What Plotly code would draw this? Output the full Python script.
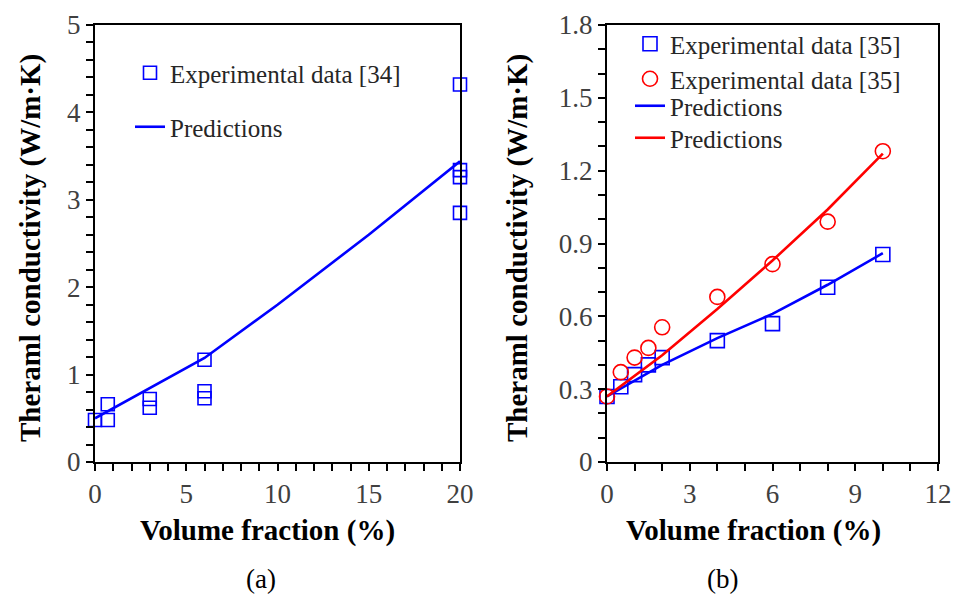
import plotly.graph_objects as go

# ---- Panel (a) data ----
a_exp_x = [0, 0.7, 0.7, 3, 3, 6, 6, 6, 20, 20, 20, 20]
a_exp_y = [0.48, 0.48, 0.66, 0.72, 0.62, 1.17, 0.81, 0.73, 4.32, 3.34, 3.26, 2.85]
a_pred_x = [0, 0.7, 3, 6, 10, 15, 20]
a_pred_y = [0.50, 0.58, 0.84, 1.19, 1.80, 2.60, 3.44]

# ---- Panel (b) data ----
b_sq_x = [0, 0.5, 1, 1.5, 2, 4, 6, 8, 10]
b_sq_y = [0.27, 0.31, 0.36, 0.40, 0.43, 0.50, 0.57, 0.72, 0.855]
b_ci_x = [0, 0.5, 1, 1.5, 2, 4, 6, 8, 10]
b_ci_y = [0.27, 0.37, 0.43, 0.47, 0.555, 0.68, 0.815, 0.99, 1.28]
b_pb_x = [0, 2, 4, 6, 8, 10]
b_pb_y = [0.27, 0.40, 0.51, 0.61, 0.73, 0.86]
b_pr_x = [0, 2, 4, 6, 8, 10]
b_pr_y = [0.27, 0.44, 0.63, 0.83, 1.04, 1.27]

a_yticks = [0, 1, 2, 3, 4, 5]
a_xticks = [0, 5, 10, 15, 20]
b_yticks = [0, 0.3, 0.6, 0.9, 1.2, 1.5, 1.8]
b_yticktext = ["0", "0.3", "0.6", "0.9", "1.2", "1.5", "1.8"]
b_xticks = [0, 3, 6, 9, 12]

BLUE = "#0000FF"
RED = "#FF0000"
SERIF = "Liberation Serif, Times New Roman, serif"
W, H = 955, 594


def px_x(p):
    return p / W


def px_y(p):
    return 1 - p / H


fig = go.Figure()

fig.add_trace(go.Scatter(x=a_exp_x, y=a_exp_y, mode="markers", name="Experimental data [34]",
                         marker=dict(symbol="square-open", size=13, color=BLUE, line=dict(width=1.6)),
                         xaxis="x", yaxis="y", legend="legend", cliponaxis=False))
fig.add_trace(go.Scatter(x=a_pred_x, y=a_pred_y, mode="lines", name="Predictions",
                         line=dict(color=BLUE, width=2.6),
                         xaxis="x", yaxis="y", legend="legend2", cliponaxis=False))

fig.add_trace(go.Scatter(x=b_sq_x, y=b_sq_y, mode="markers", name="Experimental data [35]",
                         marker=dict(symbol="square-open", size=14, color=BLUE, line=dict(width=1.6)),
                         xaxis="x2", yaxis="y2", legend="legend3", cliponaxis=False))
fig.add_trace(go.Scatter(x=b_ci_x, y=b_ci_y, mode="markers", name="Experimental data [35]",
                         marker=dict(symbol="circle-open", size=15, color=RED, line=dict(width=1.6)),
                         xaxis="x2", yaxis="y2", legend="legend4", cliponaxis=False))
fig.add_trace(go.Scatter(x=b_pb_x, y=b_pb_y, mode="lines", name="Predictions",
                         line=dict(color=BLUE, width=2.6),
                         xaxis="x2", yaxis="y2", legend="legend5", cliponaxis=False))
fig.add_trace(go.Scatter(x=b_pr_x, y=b_pr_y, mode="lines", name="Predictions",
                         line=dict(color=RED, width=2.6),
                         xaxis="x2", yaxis="y2", legend="legend6", cliponaxis=False))

tickfont = dict(family=SERIF, size=27, color="#404040")
minor_style = dict(ticks="outside", ticklen=7, tickwidth=1.5, tickcolor="black")
common = dict(showline=True, linecolor="black", linewidth=2, mirror=True,
              ticks="outside", ticklen=7, tickwidth=1.5, tickcolor="black",
              showgrid=False, zeroline=False, tickfont=tickfont, automargin=False)

leg_font = dict(family=SERIF, size=25, color="#262626")


def leg(xp, yp):
    return dict(x=px_x(xp), y=px_y(yp), xanchor="left", yanchor="top",
                font=leg_font, bgcolor="rgba(0,0,0,0)", borderwidth=0)


fig.update_layout(
    template="none",
    width=W, height=H, margin=dict(l=0, r=0, t=0, b=0, pad=0),
    paper_bgcolor="white", plot_bgcolor="white",
    font=dict(family=SERIF, color="black"),
    xaxis=dict(domain=[px_x(95), px_x(460)], range=[0, 20], tickvals=a_xticks,
               minor=dict(dtick=1, **minor_style), anchor="y", **common),
    yaxis=dict(domain=[px_y(462), px_y(25)], range=[0, 5], tickvals=a_yticks,
               minor=dict(dtick=0.2, **minor_style), anchor="x", **common),
    xaxis2=dict(domain=[px_x(607), px_x(938)], range=[0, 12], tickvals=b_xticks,
                minor=dict(dtick=1, **minor_style), anchor="y2", **common),
    yaxis2=dict(domain=[px_y(462), px_y(25)], range=[0, 1.8], tickvals=b_yticks, ticktext=b_yticktext,
                minor=dict(dtick=0.1, **minor_style), anchor="x2", **common),
    legend=leg(130, 50),
    legend2=leg(130, 104),
    legend3=leg(630, 21),
    legend4=leg(630, 56),
    legend5=leg(630, 83),
    legend6=leg(630, 115),
    showlegend=True,
)

title_font = dict(family=SERIF, size=29, color="black")
annos = [
    dict(text="<b>Theraml conductivity (W/m·K)</b>", x=px_x(30), y=px_y(248), textangle=-90),
    dict(text="<b>Theraml conductivity (W/m·K)</b>", x=px_x(517), y=px_y(248), textangle=-90),
    dict(text="<b>Volume fraction (%)</b>", x=px_x(267), y=px_y(530)),
    dict(text="<b>Volume fraction (%)</b>", x=px_x(753), y=px_y(530)),
]
for a in annos:
    fig.add_annotation(xref="paper", yref="paper", showarrow=False, font=title_font,
                       xanchor="center", yanchor="middle", **a)
for txt, xp in [("(a)", 261), ("(b)", 722)]:
    fig.add_annotation(text=txt, xref="paper", yref="paper", x=px_x(xp), y=px_y(579),
                       showarrow=False, font=dict(family=SERIF, size=27, color="black"),
                       xanchor="center", yanchor="middle")

fig.write_html("out.html")
